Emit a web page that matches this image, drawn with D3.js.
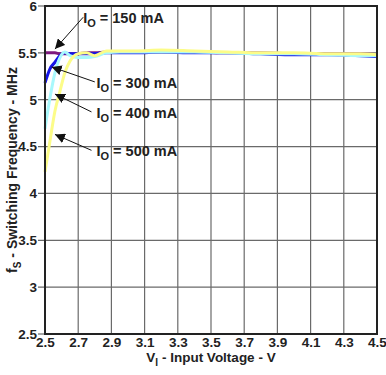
<!DOCTYPE html>
<html>
<head>
<meta charset="utf-8">
<script src="https://cdn.jsdelivr.net/npm/d3@7"></script>
<style>
  body { margin: 0; background: #fff; }
  text { font-family: "Liberation Sans", Arial, sans-serif; font-weight: bold; fill: #222; }
</style>
</head>
<body>
<div class="chart"></div>
<script>
var svgWidth = 386;
var svgHeight = 375;

var margin = { top: 6, right: 9, bottom: 41, left: 45 };
var width = svgWidth - margin.left - margin.right;
var height = svgHeight - margin.top - margin.bottom;

// data
var vin = [2.5, 2.53, 2.56, 2.59, 2.62, 2.65, 2.7, 2.75, 2.8, 2.87, 2.95, 3.05, 3.2, 3.4, 3.6, 3.8, 4.0, 4.2, 4.4, 4.5];
var f150 = [5.50, 5.50, 5.50, 5.49, 5.49, 5.49, 5.49, 5.50, 5.50, 5.51, 5.51, 5.51, 5.51, 5.51, 5.50, 5.50, 5.49, 5.49, 5.49, 5.48];
var f300 = [5.18, 5.33, 5.40, 5.47, 5.50, 5.49, 5.49, 5.49, 5.49, 5.50, 5.50, 5.50, 5.51, 5.50, 5.50, 5.49, 5.48, 5.48, 5.47, 5.46];
var f400 = [4.69, 5.02, 5.29, 5.45, 5.51, 5.47, 5.45, 5.45, 5.46, 5.50, 5.51, 5.51, 5.51, 5.51, 5.50, 5.49, 5.49, 5.48, 5.47, 5.47];
var f500 = [4.23, 4.56, 4.88, 5.09, 5.29, 5.41, 5.49, 5.50, 5.47, 5.52, 5.52, 5.52, 5.53, 5.52, 5.51, 5.50, 5.50, 5.49, 5.49, 5.48];

var xTicks = [2.5, 2.7, 2.9, 3.1, 3.3, 3.5, 3.7, 3.9, 4.1, 4.3, 4.5];
var yTicks = [2.5, 3, 3.5, 4, 4.5, 5, 5.5, 6];

var seriesNames = ["150", "300", "400", "500"];
var seriesValues = [f150, f300, f400, f500];
var seriesColors = ["#7d1a7d", "#1515e8", "#a8f8fc", "#fcfc88"];

// label text position and arrow (from -> to) in data units
var labelPos = [[2.73, 5.82], [2.81, 5.13], [2.81, 4.81], [2.81, 4.40]];
var arrowFrom = [[2.73, 5.88], [2.80, 5.19], [2.78, 4.87], [2.78, 4.46]];
var arrowTo = [[2.56, 5.54], [2.54, 5.35], [2.56, 5.06], [2.56, 4.63]];

var svg = d3.select(".chart")
  .append("svg")
  .attr("width", svgWidth)
  .attr("height", svgHeight);

var chartGroup = svg.append("g")
  .attr("transform", `translate(${margin.left}, ${margin.top})`);

var x = d3.scaleLinear().domain([2.5, 4.5]).range([0, width]);
var y = d3.scaleLinear().domain([2.5, 6]).range([height, 0]);

// grid
chartGroup.append("g")
  .selectAll("line")
  .data(xTicks.slice(1, -1))
  .enter()
  .append("line")
  .attr("x1", d => x(d)).attr("x2", d => x(d))
  .attr("y1", 0).attr("y2", height)
  .attr("stroke", "#6a6a6a")
  .attr("stroke-width", 1.2);

chartGroup.append("g")
  .selectAll("line")
  .data(yTicks.slice(1, -1))
  .enter()
  .append("line")
  .attr("x1", -7).attr("x2", width)
  .attr("y1", d => y(d)).attr("y2", d => y(d))
  .attr("stroke", "#6a6a6a")
  .attr("stroke-width", 1.2);

// tick marks for the ends
chartGroup.selectAll(".endtick")
  .data([2.5, 6])
  .enter()
  .append("line")
  .attr("x1", -7).attr("x2", 0)
  .attr("y1", d => y(d)).attr("y2", d => y(d))
  .attr("stroke", "#6a6a6a")
  .attr("stroke-width", 1.2);

// axes
var leftAxis = d3.axisLeft(y).tickValues(yTicks).tickFormat(d3.format("")).tickSize(0).tickPadding(8);
var bottomAxis = d3.axisBottom(x).tickValues(xTicks).tickFormat(d3.format(".1f")).tickSize(0).tickPadding(3);

var yAxisG = chartGroup.append("g").call(leftAxis);
yAxisG.select(".domain").remove();
yAxisG.selectAll("text").style("font-size", "13.5px").attr("font-family", null).attr("fill", "#222");

var xAxisG = chartGroup.append("g")
  .attr("transform", `translate(0, ${height})`)
  .call(bottomAxis);
xAxisG.select(".domain").remove();
xAxisG.selectAll("text").style("font-size", "13.5px").attr("font-family", null).attr("fill", "#222");

// curves
var line = d3.line()
  .x((d, i) => x(vin[i]))
  .y(d => y(d))
  .curve(d3.curveMonotoneX);

chartGroup.append("g")
  .selectAll("path")
  .data(seriesValues)
  .enter()
  .append("path")
  .attr("d", d => line(d))
  .attr("fill", "none")
  .attr("stroke", (d, i) => seriesColors[i])
  .attr("stroke-width", 3);

// frame
chartGroup.append("rect")
  .attr("x", 0).attr("y", 0)
  .attr("width", width).attr("height", height)
  .attr("fill", "none")
  .attr("stroke", "#222")
  .attr("stroke-width", 2);

// arrows
svg.append("defs").append("marker")
  .attr("id", "head")
  .attr("viewBox", "0 0 10 10")
  .attr("refX", 10).attr("refY", 5)
  .attr("markerWidth", 10).attr("markerHeight", 10)
  .attr("markerUnits", "userSpaceOnUse")
  .attr("orient", "auto")
  .append("path")
  .attr("d", "M0,0L10,5L0,10z")
  .attr("fill", "#111");

chartGroup.append("g")
  .selectAll("line")
  .data(seriesNames)
  .enter()
  .append("line")
  .attr("x1", (d, i) => x(arrowFrom[i][0]))
  .attr("y1", (d, i) => y(arrowFrom[i][1]))
  .attr("x2", (d, i) => x(arrowTo[i][0]))
  .attr("y2", (d, i) => y(arrowTo[i][1]))
  .attr("stroke", "#111")
  .attr("stroke-width", 1)
  .attr("marker-end", "url(#head)");

// labels
var labels = chartGroup.append("g")
  .selectAll("text")
  .data(seriesNames)
  .enter()
  .append("text")
  .attr("x", (d, i) => x(labelPos[i][0]))
  .attr("y", (d, i) => y(labelPos[i][1]))
  .style("font-size", "14.5px");

labels.append("tspan").text("I");
labels.append("tspan").attr("dy", 4).style("font-size", "11px").text("O");
labels.append("tspan").attr("dy", -4).text(d => ` = ${d} mA`);

// axis titles
var xTitle = svg.append("text")
  .attr("x", margin.left + width / 2)
  .attr("y", 362)
  .attr("text-anchor", "middle")
  .style("font-size", "13.5px");
xTitle.append("tspan").text("V");
xTitle.append("tspan").attr("dy", 4).style("font-size", "10px").text("I");
xTitle.append("tspan").attr("dy", -4).text(" - Input Voltage - V");

var yTitle = svg.append("text")
  .attr("transform", `translate(17, ${margin.top + height / 2}) rotate(-90)`)
  .attr("text-anchor", "middle")
  .style("font-size", "14px");
yTitle.append("tspan").text("f");
yTitle.append("tspan").attr("dy", 4).style("font-size", "10px").text("S");
yTitle.append("tspan").attr("dy", -4).text(" - Switching Frequency - MHz");
</script>
</body>
</html>
